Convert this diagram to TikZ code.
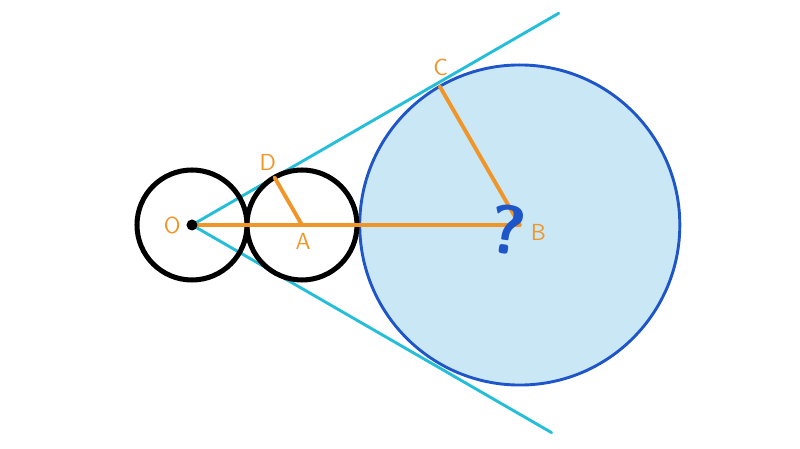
\documentclass[tikz,border=0pt]{standalone}
\usepackage{amsmath}
\usetikzlibrary{positioning,arrows.meta,calc}
\definecolor{tancyan}{RGB}{35,190,215}
\definecolor{bigblue}{RGB}{30,85,200}
\definecolor{bigfill}{RGB}{202,231,246}
\definecolor{segorange}{RGB}{240,150,40}
\tikzstyle{tangent} = [line width=1.5pt,tancyan,line cap=round]
\tikzstyle{ring} = [line width=2.6pt,black]
\tikzstyle{seg} = [line width=2pt,segorange,line cap=round]
\tikzstyle{lbl} = [text=segorange,font=\sffamily\large,inner sep=1pt]

\begin{document}
\begin{tikzpicture}
\useasboundingbox (-3.491,-4.073) rectangle (11.055,4.091);
\coordinate (O) at (0,0);
\coordinate (A) at (2,0);
\coordinate (B) at (5.96,0);
\coordinate (C) at ($(B)+(120:2.91)$);
\coordinate (D) at (1.5,0.866);
\coordinate (T1) at (30:7.7);
\coordinate (T2) at (-30:7.55);

\filldraw[fill=bigfill,draw=bigblue,line width=1.5pt] (B) circle (2.91);
\draw[tangent] (O) -- (T1);
\draw[tangent] (O) -- (T2);
\draw[ring] (O) circle (1);
\draw[ring] (A) circle (1);

\draw[seg] (O) -- (B);
\draw[seg] (A) -- (D);
\draw[seg] (B) -- (C);
\fill[black] (O) circle (0.1);

\node[lbl] (lO) at (-0.36,0) {O};
\node[lbl] (lA) at (2.02,-0.3) {A};
\node[lbl] (lB) at (6.3,-0.14) {B};
\node[lbl] (lC) at (4.52,2.86) {C};
\node[lbl] (lD) at (1.38,1.14) {D};
\node[text=bigblue,font=\sffamily\bfseries\fontsize{36}{36}\selectfont,rotate=-8] (q) at (5.74,-0.08) {?};
\end{tikzpicture}
\end{document}
